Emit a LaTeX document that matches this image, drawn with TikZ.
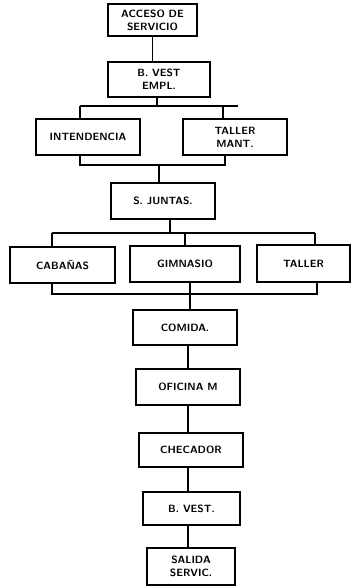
\documentclass[tikz,border=0pt]{standalone}
\begin{document}
\begin{tikzpicture}[x=1pt,y=-1pt,
  box/.style={draw, line width=1.4pt, inner sep=1pt, align=center,
    font=\sffamily\bfseries\fontsize{10.5}{13}\selectfont},
  wire/.style={line width=1.3pt}]
\useasboundingbox (0,0) rectangle (352,588);
% boxes
\node[box, minimum width=89pt, minimum height=32pt] (acc) at (152.5,20) {ACCESO DE\\SERVICIO};
\node[box, minimum width=102pt, minimum height=35pt] (vest) at (159,79.5) {B. VEST\\EMPL.};
\node[box, minimum width=104pt, minimum height=36pt] (int) at (88,137) {INTENDENCIA};
\node[box, minimum width=104pt, minimum height=36pt] (tal) at (235,137) {TALLER\\MANT.};
\node[box, minimum width=104pt, minimum height=36pt] (jun) at (163,201) {S. JUNTAS.};
\node[box, minimum width=105pt, minimum height=36pt] (cab) at (62.5,265) {CABAÑAS};
\node[box, minimum width=110pt, minimum height=36pt] (gim) at (185,264) {GIMNASIO};
\node[box, minimum width=93pt, minimum height=37pt] (tll) at (303.5,263.5) {TALLER};
\node[box, minimum width=104pt, minimum height=35pt] (com) at (185,327.5) {COMIDA.};
\node[box, minimum width=104pt, minimum height=36pt] (ofi) at (188,387) {OFICINA M};
\node[box, minimum width=104pt, minimum height=34pt] (che) at (191,450) {CHECADOR};
\node[box, minimum width=97pt, minimum height=33pt] (bv) at (191.5,508.5) {B. VEST.};
\node[box, minimum width=88pt, minimum height=37pt] (sal) at (191,566.5) {SALIDA\\SERVIC.};
% junction coordinates
\coordinate (b1l) at (80,106);
\coordinate (b1r) at (238,106);
\coordinate (b1m) at (157,106);
\coordinate (b1d) at (223,106);
\coordinate (b2l) at (80,165);
\coordinate (b2r) at (225,165);
\coordinate (b2m) at (159,165);
\coordinate (b3l) at (52,233);
\coordinate (b3m) at (185,233);
\coordinate (b3r) at (315,233);
\coordinate (b3j) at (170,233);
\coordinate (b4l) at (52,294);
\coordinate (b4m) at (190,294);
\coordinate (b4r) at (317,294);
\coordinate (vx) at (188,0);
% connectors
\draw[wire] (acc.south) -- (acc.south |- vest.north);
\draw[wire] (vest.south -| b1m) -- (b1m);
\draw[wire] (b1l) -- (b1r);
\draw[wire] (b1l) -- (b1l |- int.north);
\draw[wire] (b1d) -- (b1d |- tal.north);
\draw[wire] (b2l |- int.south) -- (b2l) -- (b2r) -- (b2r |- tal.south);
\draw[wire] (b2m) -- (b2m |- jun.north);
\draw[wire] (jun.south -| b3j) -- (b3j);
\draw[wire] (b3l) -- (b3r);
\draw[wire] (b3l) -- (b3l |- cab.north);
\draw[wire] (b3m) -- (b3m |- gim.north);
\draw[wire] (b3r) -- (b3r |- tll.north);
\draw[wire] (b4l |- cab.south) -- (b4l) -- (b4r) -- (b4r |- tll.south);
\draw[wire] (b4m |- gim.south) -- (b4m |- com.north);
\draw[wire] (com.south -| vx) -- (vx |- ofi.north);
\draw[wire] (ofi.south -| vx) -- (vx |- che.north);
\draw[wire] (che.south -| vx) -- (vx |- bv.north);
\draw[wire] (bv.south -| vx) -- (vx |- sal.north);
\end{tikzpicture}
\end{document}
